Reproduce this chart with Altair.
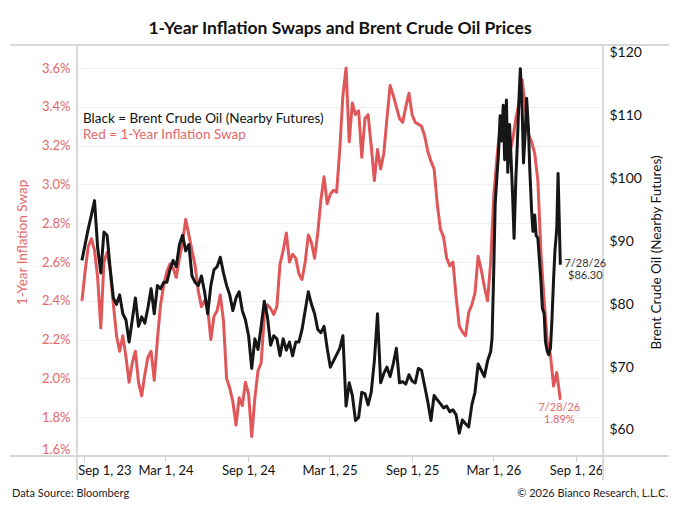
import altair as alt
import pandas as pd

# ---------------- data ----------------
swap_values = [
    2.40, 2.55, 2.68, 2.72, 2.66, 2.52, 2.26, 2.60, 2.65, 2.56,
    2.38, 2.22, 2.14, 2.22, 2.11, 1.98, 2.08, 2.14, 1.98, 1.91,
    2.02, 2.11, 2.14, 1.99, 2.20, 2.38, 2.48, 2.55, 2.59, 2.57,
    2.52, 2.62, 2.70, 2.82, 2.74, 2.66, 2.58, 2.45, 2.37, 2.40,
    2.36, 2.20, 2.32, 2.35, 2.43, 2.30, 2.00, 1.95, 1.88, 1.76,
    1.90, 1.86, 1.98, 1.92, 1.70, 1.90, 2.04, 2.08, 2.32, 2.38,
    2.36, 2.33, 2.37, 2.59, 2.66, 2.75, 2.60, 2.64, 2.62, 2.54,
    2.51, 2.60, 2.74, 2.70, 2.62, 2.75, 2.92, 3.04, 2.90, 2.95,
    2.97, 2.96, 3.18, 3.46, 3.60, 3.22, 3.42, 3.36, 3.38, 3.14,
    3.34, 3.36, 3.20, 3.02, 3.18, 3.08, 3.16, 3.34, 3.51, 3.46,
    3.40, 3.34, 3.32, 3.40, 3.47, 3.36, 3.32, 3.31, 3.30, 3.25,
    3.17, 3.12, 3.08, 2.90, 2.77, 2.73, 2.62, 2.58, 2.60, 2.42,
    2.27, 2.24, 2.22, 2.34, 2.38, 2.44, 2.63, 2.56, 2.47, 2.40,
    2.60, 2.95, 3.14, 3.30, 3.27, 3.28, 3.16, 3.23, 3.34, 3.42,
    3.54, 3.40, 3.26, 3.22, 3.16, 3.02, 2.64, 2.40, 2.19, 2.12,
    1.96, 2.03, 1.89,
]

oil_weekly = [
    87.0, 89.5, 92.0, 94.2, 96.5, 89.0, 85.0, 91.5, 91.0, 85.5,
    81.0, 80.0, 81.5, 78.5, 77.5, 74.0, 77.5, 81.0, 76.5, 78.0,
    77.0, 79.5, 82.5, 78.5, 83.0, 82.5, 83.5, 83.5, 85.5, 87.0,
    86.0, 89.5, 91.0, 88.5, 89.5, 84.5, 83.5, 83.0, 84.5, 82.0,
    78.5, 83.0, 85.5, 86.0, 87.5, 85.0, 83.0, 81.5, 79.0, 81.0,
    82.0, 79.0, 77.5, 75.0, 69.8, 74.5, 72.8, 76.5, 80.5, 78.0,
    73.5, 75.0, 74.5, 71.8, 74.5, 72.7, 74.0, 71.8, 74.0, 74.0,
    76.0, 79.0, 82.0, 80.0, 78.5, 76.0, 75.5, 76.5, 73.0, 70.0,
    71.0, 72.0, 73.0, 75.0, 63.8, 67.5, 65.5, 61.5, 62.0, 66.0,
    65.8, 64.0, 66.0, 71.0, 78.5, 67.5, 69.0, 70.0, 68.5, 70.5,
    73.0, 67.5, 67.7, 67.3, 68.8, 67.8, 67.5, 69.8, 69.5, 67.0,
    64.5, 61.5, 65.5, 64.8, 64.2, 63.5, 63.8, 62.9, 63.2, 62.4,
    59.5, 61.6, 61.0, 60.5, 64.0, 66.0, 70.5, 69.5, 68.5, 71.0,
]

# twice-weekly readings for the volatile 2026 stretch
oil_recent = [
    72.5, 74.6, 86.0, 96.0, 100.5, 103.5, 110.0, 106.0, 111.7, 103.0,
    112.5, 101.0, 108.6, 103.8, 96.9, 90.5, 100.0, 105.0, 112.8, 117.5,
    111.0, 102.5, 107.5, 112.8, 108.0, 101.5, 95.0, 91.6, 94.2, 91.0,
    90.5, 87.5, 83.5, 79.4, 78.5, 74.0, 72.5, 72.0, 73.0, 77.0,
    84.0, 88.5, 92.0, 100.8, 86.3,
]

swap_ticks = [1.6, 1.8, 2.0, 2.2, 2.4, 2.6, 2.8, 3.0, 3.2, 3.4, 3.6]
oil_ticks = [60, 70, 80, 90, 100, 110, 120]
x_tick_dates = [(2023, 9), (2024, 3), (2024, 9), (2025, 3), (2025, 9), (2026, 3), (2026, 9)]

start = pd.Timestamp("2023-08-28")
last_day = pd.Timestamp("2026-07-28")
swap_dates = list(pd.date_range(start, periods=len(swap_values) - 1, freq="7D")) + [last_day]
oil_dates = list(pd.date_range(start, periods=len(oil_weekly), freq="7D"))
oil_dates += [start + pd.Timedelta(days=int(k * 3.5)) for k in range(260, 260 + len(oil_recent) - 1)]
oil_dates += [last_day]
oil_all = oil_weekly + oil_recent

swap_df = pd.DataFrame({"date": [d.strftime("%Y-%m-%d") for d in swap_dates], "swap": swap_values})
oil_df = pd.DataFrame({"date": [d.strftime("%Y-%m-%d") for d in oil_dates], "oil": oil_all})

end_label = f"{last_day.month}/{last_day.day}/{last_day.year % 100}"
swap_end = pd.DataFrame({"date": [last_day.strftime("%Y-%m-%d")], "swap": [swap_values[-1]],
                         "l1": [end_label], "l2": [f"{swap_values[-1]:.2f}%"]})
oil_end = pd.DataFrame({"date": [last_day.strftime("%Y-%m-%d")], "oil": [oil_all[-1]],
                        "l1": [end_label], "l2": [f"${oil_all[-1]:.2f}"]})

# ---------------- styling ----------------
W, H = 526, 411
RED = "#e0575a"
RED_TXT = "#e4676a"
BLACK = "#161616"
FONT = "Lato"
FRAME = "#d8d8d8"

x_enc = alt.X(
    "date:T",
    scale=alt.Scale(domain=[alt.DateTime(year=2023, month=8, date=17),
                            alt.DateTime(year=2026, month=10, date=31)]),
    axis=alt.Axis(
        values=[alt.DateTime(year=y, month=m, date=1) for y, m in x_tick_dates],
        format="%b %-d, %y", title=None, labelFont=FONT, labelFontSize=13,
        labelColor="#111", tickSize=5, tickColor="#cccccc", labelPadding=3,
        domain=False, grid=False, labelFlush=8, labelFlushOffset=6,
    ),
)

y_swap = alt.Y(
    "swap:Q",
    scale=alt.Scale(domain=[1.6, 3.719], nice=False, zero=False),
    axis=alt.Axis(
        orient="left", values=swap_ticks, labelExpr="format(datum.value, '.1f') + '%'",
        grid=True, gridColor="#efefef", gridWidth=1, domain=False, ticks=False,
        labelPadding=7, labelFont=FONT, labelFontSize=13, labelColor=RED_TXT, labelFlush=8,
        title="1-Year Inflation Swap", titleColor=RED_TXT, titleFont=FONT, titleFontSize=13.5,
        titleFontWeight="normal", titleAngle=270, titleX=-55, titleY=197,
        titleAlign="center", titleBaseline="middle",
    ),
)

y_oil = alt.Y(
    "oil:Q",
    scale=alt.Scale(domain=[55.86, 121.27], nice=False, zero=False),
    axis=alt.Axis(
        orient="right", values=oil_ticks, labelExpr="'$' + datum.value",
        grid=False, domain=False, ticks=False, labelPadding=6, labelFont=FONT,
        labelFontSize=14, labelColor="#111", labelFlush=False,
        title="Brent Crude Oil (Nearby Futures)", titleColor="#111", titleFont=FONT,
        titleFontSize=13.5, titleFontWeight="normal", titleAngle=270, titleX=53, titleY=207,
        titleAlign="center", titleBaseline="middle",
    ),
)

swap_line = alt.Chart(swap_df).mark_line(color=RED, strokeWidth=3, strokeJoin="round").encode(x=x_enc, y=y_swap)
swap_t1 = alt.Chart(swap_end).mark_text(font=FONT, fontSize=11, color=RED_TXT, dx=-1, dy=8,
                                        align="center", baseline="middle").encode(x=x_enc, y=y_swap, text="l1:N")
swap_t2 = alt.Chart(swap_end).mark_text(font=FONT, fontSize=11, color=RED_TXT, dx=-1, dy=20,
                                        align="center", baseline="middle").encode(x=x_enc, y=y_swap, text="l2:N")
swap_layer = alt.layer(swap_line, swap_t1, swap_t2)

oil_line = alt.Chart(oil_df).mark_line(color=BLACK, strokeWidth=3, strokeJoin="round").encode(x=x_enc, y=y_oil)
oil_t1 = alt.Chart(oil_end).mark_text(font=FONT, fontSize=11, color="#333", dx=25, dy=-1,
                                      align="center", baseline="middle").encode(x=x_enc, y=y_oil, text="l1:N")
oil_t2 = alt.Chart(oil_end).mark_text(font=FONT, fontSize=11, color="#333", dx=25, dy=11,
                                      align="center", baseline="middle").encode(x=x_enc, y=y_oil, text="l2:N")
oil_layer = alt.layer(oil_line, oil_t1, oil_t2)

one = alt.Data(values=[{}])


def rule(**enc):
    return alt.Chart(one).mark_rule(color=FRAME, strokeWidth=2).encode(**enc)


frame = [
    rule(x=alt.value(-67), x2=alt.value(592), y=alt.value(0)),
    rule(x=alt.value(-67), x2=alt.value(592), y=alt.value(H)),
    rule(x=alt.value(0), y=alt.value(0), y2=alt.value(435)),
    rule(x=alt.value(W), y=alt.value(0), y2=alt.value(435)),
]


def label(txt, x, y, color="#111", size=13.5, align="left"):
    return alt.Chart(one).mark_text(text=txt, font=FONT, fontSize=size, color=color,
                                    align=align, baseline="middle").encode(x=alt.value(x), y=alt.value(y))


texts = [
    label("Black = Brent Crude Oil (Nearby Futures)", 6, 74, "#111"),
    label("Red = 1-Year Inflation Swap", 6, 90, RED_TXT),
    label("Data Source: Bloomberg", -65, 449, "#222", 11),
    label("\u00a9 2026 Bianco Research, L.L.C.", 591, 449, "#222", 11, "right"),
]

chart = alt.layer(
    *frame, swap_layer, oil_layer, *texts
).resolve_scale(y="independent").properties(
    width=W, height=H,
    padding={"left": 69, "top": 37, "right": 69, "bottom": 46},
    autosize=alt.AutoSizeParams(type="none"),
    title=alt.TitleParams(
        "1-Year Inflation Swaps and Brent Crude Oil Prices", font=FONT, fontSize=17.5,
        fontWeight="bold", color="#111", anchor="middle", offset=7,
    ),
).configure_view(stroke=None).configure(background="white")

chart.save("out.html", embed_options={"renderer": "svg", "actions": False})
